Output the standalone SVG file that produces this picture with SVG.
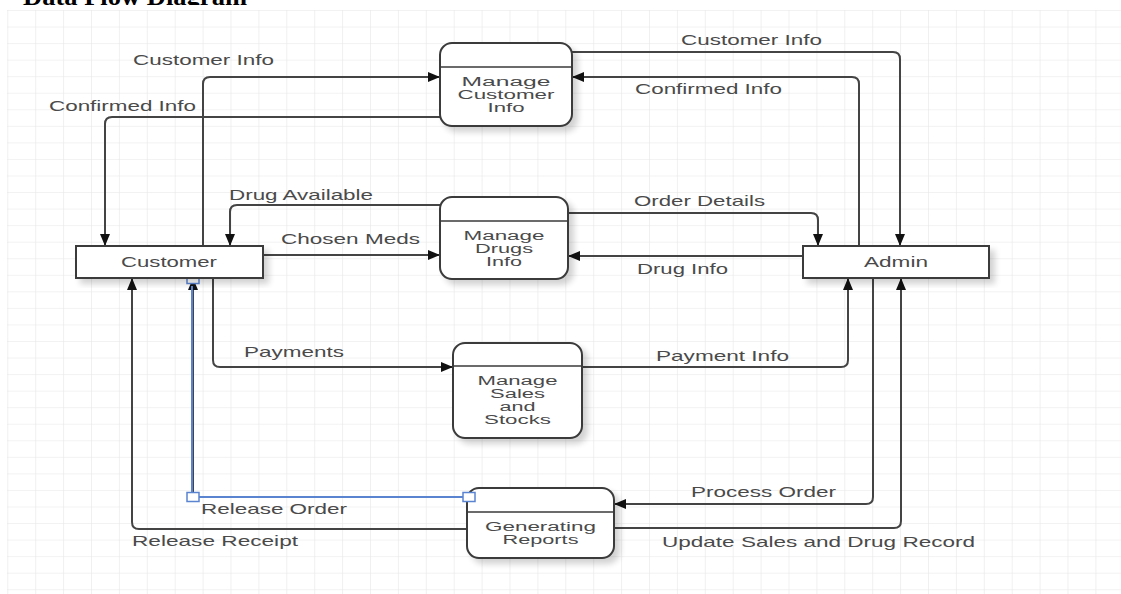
<svg xmlns="http://www.w3.org/2000/svg" width="1121" height="594" viewBox="0 0 1121 594">
  <style>
    .lbl { font-family: "Liberation Sans", Arial, sans-serif; font-size: 15px; fill: #4a4a4a; }
    .ntx { font-family: "Liberation Sans", Arial, sans-serif; font-size: 12.5px; fill: #4a4a4a; text-anchor: middle; }
    .box { fill: #ffffff; stroke: #3a3a3a; stroke-width: 2; }
    .div { stroke: #3a3a3a; stroke-width: 1.5; }
    .flow { fill: none; stroke: #444444; stroke-width: 2; marker-end: url(#arr); }
    .sel { fill: none; stroke: #5b84d0; stroke-width: 2; }
    .handle { fill: #ffffff; stroke: #5b84d0; stroke-width: 1.5; }
    .title { font-family: "Liberation Serif", "Times New Roman", serif; font-weight: bold; font-size: 25px; fill: #000000; }
  </style>
  <defs>
    <pattern id="grid" patternUnits="userSpaceOnUse" x="7.3" y="10" width="27.9" height="16.55">
      <path d="M0,0 H27.9 M0,0 V16.55" fill="none" stroke="#e6e6e6" stroke-width="1.2"/>
    </pattern>
    <marker id="arr" markerUnits="userSpaceOnUse" markerWidth="14" markerHeight="12" refX="12" refY="5" orient="auto">
      <path d="M0,0 L12,5 L0,10 z" fill="#111111"/>
    </marker>
    <filter id="sh" x="-20%" y="-20%" width="140%" height="150%">
      <feGaussianBlur in="SourceAlpha" stdDeviation="3"/>
      <feOffset dx="5" dy="5" result="b"/>
      <feComponentTransfer><feFuncA type="linear" slope="0.18"/></feComponentTransfer>
      <feMerge><feMergeNode/><feMergeNode in="SourceGraphic"/></feMerge>
    </filter>
    <clipPath id="tclip"><rect x="0" y="-30" width="400" height="35"/></clipPath>
  </defs>

  <rect x="0" y="0" width="1121" height="594" fill="#ffffff"/>
  <rect x="7" y="10" width="1114" height="584" fill="url(#grid)"/>

  <text class="title" x="23" y="5" textLength="224" lengthAdjust="spacingAndGlyphs" clip-path="url(#tclip)">Data Flow Diagram</text>

  <g id="connectors">
    <path class="flow" d="M203,246 V84 Q203,77 210,77 H440"/>
    <path class="flow" d="M440,117 H112 Q105,117 105,124 V246"/>
    <path class="flow" d="M572,52 H893 Q900,52 900,59 V246"/>
    <path class="flow" d="M859,246 V84 Q859,77 852,77 H572"/>
    <path class="flow" d="M440,205 H237 Q230,205 230,212 V246"/>
    <path class="flow" d="M263,255 H440"/>
    <path class="flow" d="M568,213 H811 Q818,213 818,220 V246"/>
    <path class="flow" d="M803,256 H568"/>
    <path class="flow" d="M213,278 V360 Q213,367 220,367 H453"/>
    <path class="flow" d="M582,367 H841 Q848,367 848,360 V278"/>
    <path class="flow" d="M873,278 V497 Q873,504 866,504 H614"/>
    <path class="flow" d="M614,528 H894 Q901,528 901,521 V278"/>
    <path class="flow" d="M467,529 H139 Q132,529 132,522 V278"/>
    <path class="flow" d="M469,497 H193 V278"/>
    <path class="sel" d="M469,497 H192 V286"/>
    <rect class="handle" x="187" y="274.5" width="12" height="9"/>
    <rect class="handle" x="187" y="492.5" width="12" height="9"/>

    <text class="lbl" x="133" y="65" textLength="141" lengthAdjust="spacingAndGlyphs">Customer Info</text>
    <text class="lbl" x="49" y="111" textLength="147" lengthAdjust="spacingAndGlyphs">Confirmed Info</text>
    <text class="lbl" x="681" y="45" textLength="141" lengthAdjust="spacingAndGlyphs">Customer Info</text>
    <text class="lbl" x="635" y="94" textLength="147" lengthAdjust="spacingAndGlyphs">Confirmed Info</text>
    <text class="lbl" x="229" y="200" textLength="144" lengthAdjust="spacingAndGlyphs">Drug Available</text>
    <text class="lbl" x="281" y="244" textLength="139" lengthAdjust="spacingAndGlyphs">Chosen Meds</text>
    <text class="lbl" x="634" y="206" textLength="131" lengthAdjust="spacingAndGlyphs">Order Details</text>
    <text class="lbl" x="637" y="274" textLength="91" lengthAdjust="spacingAndGlyphs">Drug Info</text>
    <text class="lbl" x="244" y="357" textLength="100" lengthAdjust="spacingAndGlyphs">Payments</text>
    <text class="lbl" x="656" y="361" textLength="133" lengthAdjust="spacingAndGlyphs">Payment Info</text>
    <text class="lbl" x="201" y="514" textLength="146" lengthAdjust="spacingAndGlyphs">Release Order</text>
    <text class="lbl" x="132" y="546" textLength="166" lengthAdjust="spacingAndGlyphs">Release Receipt</text>
    <text class="lbl" x="691" y="497" textLength="145" lengthAdjust="spacingAndGlyphs">Process Order</text>
    <text class="lbl" x="662" y="547" textLength="313" lengthAdjust="spacingAndGlyphs">Update Sales and Drug Record</text>
  </g>

  <g id="customer">
    <rect class="box" x="76" y="246" width="187" height="32" filter="url(#sh)"/>
    <text class="ntx" x="169" y="267" textLength="96" lengthAdjust="spacingAndGlyphs" style="font-size:15px">Customer</text>
  </g>

  <g id="admin">
    <rect class="box" x="803" y="246" width="186" height="32" filter="url(#sh)"/>
    <text class="ntx" x="896" y="267" textLength="64" lengthAdjust="spacingAndGlyphs" style="font-size:15px">Admin</text>
  </g>

  <g id="manage-customer-info">
    <rect class="box" x="440" y="43" width="132" height="83" rx="12" ry="12" filter="url(#sh)"/>
    <line class="div" x1="440" y1="67" x2="572" y2="67"/>
    <text class="ntx" x="506" y="86" textLength="89" lengthAdjust="spacingAndGlyphs">Manage</text>
    <text class="ntx" x="506" y="99" textLength="97" lengthAdjust="spacingAndGlyphs">Customer</text>
    <text class="ntx" x="506" y="112" textLength="37" lengthAdjust="spacingAndGlyphs">Info</text>
  </g>

  <g id="manage-drugs-info">
    <rect class="box" x="440" y="197" width="128" height="82" rx="12" ry="12" filter="url(#sh)"/>
    <line class="div" x1="440" y1="221" x2="568" y2="221"/>
    <text class="ntx" x="504" y="240" textLength="81" lengthAdjust="spacingAndGlyphs">Manage</text>
    <text class="ntx" x="504" y="253" textLength="58" lengthAdjust="spacingAndGlyphs">Drugs</text>
    <text class="ntx" x="504" y="266" textLength="36" lengthAdjust="spacingAndGlyphs">Info</text>
  </g>

  <g id="manage-sales-and-stocks">
    <rect class="box" x="453" y="343" width="129" height="95" rx="12" ry="12" filter="url(#sh)"/>
    <line class="div" x1="453" y1="366" x2="582" y2="366"/>
    <text class="ntx" x="517.5" y="385" textLength="80" lengthAdjust="spacingAndGlyphs">Manage</text>
    <text class="ntx" x="517.5" y="398" textLength="55" lengthAdjust="spacingAndGlyphs">Sales</text>
    <text class="ntx" x="517.5" y="411" textLength="36" lengthAdjust="spacingAndGlyphs">and</text>
    <text class="ntx" x="517.5" y="424" textLength="67" lengthAdjust="spacingAndGlyphs">Stocks</text>
  </g>

  <g id="generating-reports">
    <rect class="box" x="467" y="488" width="147" height="70" rx="12" ry="12" filter="url(#sh)"/>
    <line class="div" x1="467" y1="512" x2="614" y2="512"/>
    <text class="ntx" x="540.5" y="531" textLength="111" lengthAdjust="spacingAndGlyphs">Generating</text>
    <text class="ntx" x="540.5" y="544" textLength="76" lengthAdjust="spacingAndGlyphs">Reports</text>
  </g>
  <rect class="handle" x="463" y="492.5" width="12" height="9"/>
</svg>
